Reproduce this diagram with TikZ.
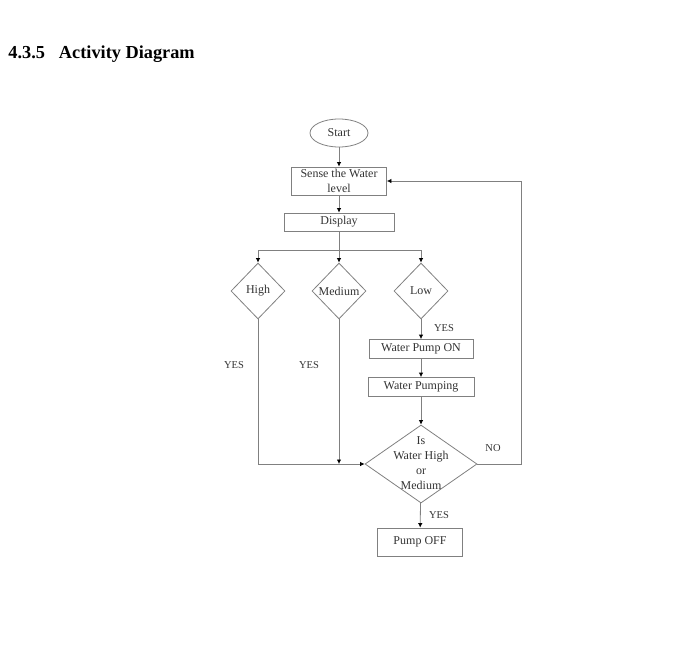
\documentclass[tikz,border=0pt]{standalone}
\usepackage{fontspec}
\setmainfont{Liberation Serif}
\usetikzlibrary{shapes.geometric,arrows.meta}
\begin{document}
\begin{tikzpicture}[x=1pt, y=-1pt,
    line width=0.8pt, draw=black!50, text=black!80,
    font=\fontsize{12}{13}\selectfont,
    arr/.style={draw=black!50, -{Latex[length=4.5pt,width=4.5pt,color=black]}},
    actbox/.style={draw=black!50, rectangle, align=center, inner sep=2pt},
    choice/.style={draw=black!50, diamond, inner sep=0pt, minimum width=54, minimum height=56},
    lbl/.style={font=\fontsize{10.5}{12}\selectfont}]
    \useasboundingbox (0,0) rectangle (694,648);
    % Heading
    \node[anchor=base west, inner sep=0pt, text=black, font=\bfseries\fontsize{18.3}{21}\selectfont] (title) at (8,58) {4.3.5\hskip 14pt Activity Diagram};

    % Nodes with manual coordinates
    \node[draw=black!50, ellipse, minimum width=58, minimum height=28, inner sep=0pt] (start) at (339,133) {Start};
    \node[actbox, inner sep=0.5pt, minimum width=95, minimum height=28, font=\fontsize{12}{15}\selectfont] (sense) at (339,181) {Sense the Water\\level};
    \node[actbox, minimum width=110, minimum height=18] (disp) at (339,222) {Display};
    \coordinate (split) at (339,250);
    \node[choice] (high) at (258,291) {High};
    \node[choice] (med) at (339,291) {Medium};
    \node[choice] (low) at (421,291) {Low};
    \node[actbox, minimum width=104, minimum height=19] (pumpon) at (421,349) {Water Pump ON};
    \node[actbox, minimum width=106, minimum height=19] (pumping) at (421,387) {Water Pumping};
    \node[draw=black!50, diamond, minimum width=112, minimum height=78, inner sep=0pt] (check) at (421,464) {};
    \node[align=center, inner sep=0pt, font=\fontsize{12}{15}\selectfont] (checktxt) at (421,463) {Is\\Water High\\or\\Medium};
    \node[actbox, minimum width=85, minimum height=28] (off) at (420,542) {Pump OFF};
    \coordinate (join) at (339,464);
    \coordinate (back) at (521,181);

    % Labels
    \node[lbl] (yeshigh) at (234,365) {YES};
    \node[lbl] (yesmed) at (309,365) {YES};
    \node[lbl] (yeslow) at (444,328) {YES};
    \node[lbl] (no) at (493,448) {NO};
    \node[lbl] (yesoff) at (439,515) {YES};

    % Edges
    \draw[arr] (start) -- (sense);
    \draw[arr] (sense) -- (disp);
    \draw (disp) -- (split);
    \draw[arr] (split) -| (high);
    \draw[arr] (split) -- (med);
    \draw[arr] (split) -| (low);
    \draw[arr] (low) -- (pumpon);
    \draw[arr] (pumpon) -- (pumping);
    \draw[arr] (pumping) -- (check);
    \draw[arr] (high) |- (check.west);
    \draw[arr] (med) -- (join);
    \draw[arr] (check.east) -| (back) -- (sense.east);
    \draw[arr] (check) -- (off);
\end{tikzpicture}
\end{document}
